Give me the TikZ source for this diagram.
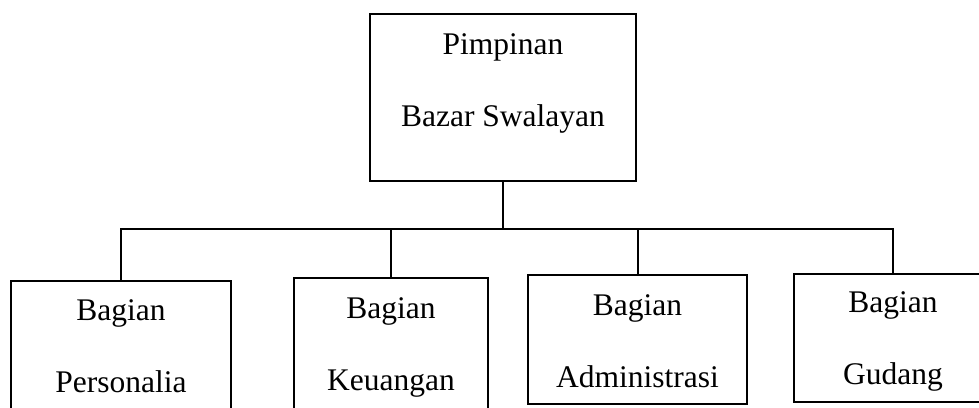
\documentclass[tikz,border=0pt]{standalone}
\usepackage{fontspec}
\setmainfont{Liberation Serif}
\usetikzlibrary{calc}

\begin{document}
\begin{tikzpicture}[
    x=1pt, y=-1pt,
    unit/.style={draw, line width=2pt, inner sep=0pt, anchor=north west},
    caption/.style={align=center, anchor=base, inner sep=0pt, font=\fontsize{31.5}{72}\selectfont},
    link/.style={line width=2pt}
]
\useasboundingbox (0,0) rectangle (979,407);
\clip (0,0) rectangle (979,407);

% Top
\node[unit, minimum width=266pt, minimum height=167pt] (pimpinan) at (369,13) {};
\node[caption] (pimpinan-text) at ($(pimpinan.north)+(0,113)$) {Pimpinan\\Bazar Swalayan};

% Bagian
\node[unit, minimum width=220pt, minimum height=140pt] (personalia) at (10,280) {};
\node[unit, minimum width=194pt, minimum height=140pt] (keuangan) at (293,277) {};
\node[unit, minimum width=219pt, minimum height=129pt] (administrasi) at (527,274) {};
\node[unit, minimum width=198pt, minimum height=128pt] (gudang) at (793,273) {};

\node[caption] (personalia-text) at ($(personalia.north)+(0,112)$) {Bagian\\Personalia};
\node[caption] (keuangan-text) at ($(keuangan.north)+(0,113)$) {Bagian\\Keuangan};
\node[caption] (administrasi-text) at ($(administrasi.north)+(0,113)$) {Bagian\\Administrasi};
\node[caption] (gudang-text) at ($(gudang.north)+(0,111)$) {Bagian\\Gudang};

% Lines
\coordinate (bus) at ($(pimpinan.south)+(0,47)$);
\draw[link] (pimpinan.south) -- (bus);
\draw[link] (bus) -| (personalia.north);
\draw[link] (bus) -| (keuangan.north);
\draw[link] (bus) -| (administrasi.north);
\draw[link] (bus) -| (gudang.north);

\end{tikzpicture}
\end{document}
